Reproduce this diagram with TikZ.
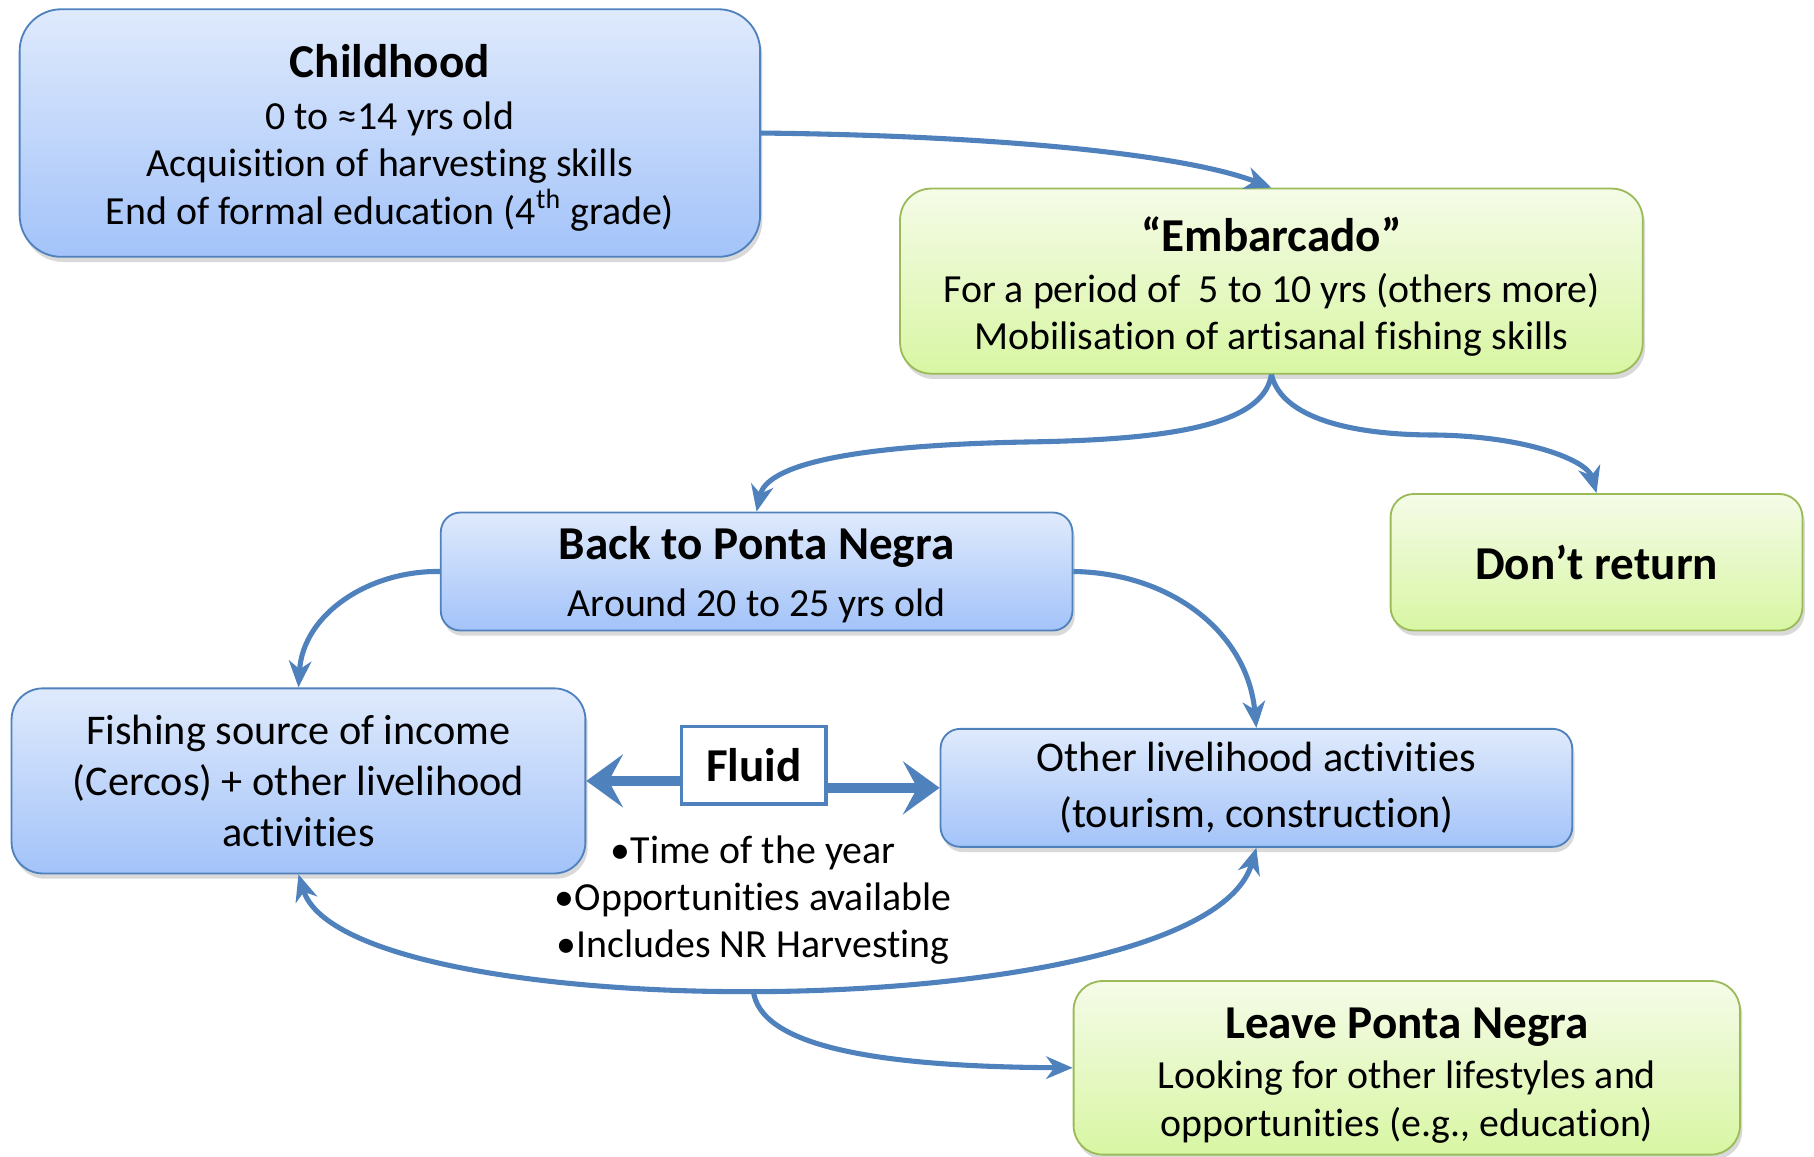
\documentclass[tikz,border=0pt]{standalone}
\usepackage{fontspec}
\setmainfont{Carlito}[Ligatures=NoCommon]
\usetikzlibrary{arrows.meta,shadows}

\definecolor{pptblue}{RGB}{79,129,189}
\definecolor{bluetop}{RGB}{223,234,252}
\definecolor{bluebot}{RGB}{163,195,249}
\definecolor{greentop}{RGB}{245,251,232}
\definecolor{greenbot}{RGB}{216,246,163}
\definecolor{greenline}{RGB}{155,187,89}

\newcommand{\headfont}{\fontsize{23.2}{28}\selectfont\bfseries}
\newcommand{\bodyfont}{\fontsize{19.6}{23.3}\selectfont}
\newcommand{\headstrut}[1][22.5pt]{\rule{0pt}{#1}}

\tikzset{
  box/.style={rectangle, align=center, inner sep=0pt, font=\bodyfont,
    drop shadow={shadow xshift=0.4mm, shadow yshift=-0.9mm, opacity=0.3}},
  bluebox/.style={box, draw=pptblue, line width=0.9pt, top color=bluetop, bottom color=bluebot},
  greenbox/.style={box, draw=greenline, line width=0.9pt, top color=greentop, bottom color=greenbot},
  fluidbox/.style={rectangle, draw=pptblue, line width=1.7pt, fill=white, font=\headfont,
    minimum width=25mm, minimum height=13.4mm},
  link/.style={draw=pptblue, line width=2.5pt, -{Stealth[length=13pt,width=11pt,inset=4pt]}},
  twoway/.style={link, {Stealth[length=13pt,width=11pt,inset=4pt]}-{Stealth[length=13pt,width=11pt,inset=4pt]}},
  fatlink/.style={draw=pptblue, line width=5.2pt, -{Stealth[length=18pt,width=26pt,inset=7pt]}}
}

\begin{document}
\begin{tikzpicture}[x=0.2mm,y=-0.2mm]
\useasboundingbox (0,0) rectangle (1568,1000);
%\draw[step=100,gray,very thin] (0,0) grid (1568,1000);
\node[bluebox, rounded corners=7.2mm, minimum width=128mm, minimum height=42.8mm] (child) at (337,115)
  {{\headfont\headstrut[21pt]Childhood}\\[2.2pt] 0 to ≈14 yrs old\\ Acquisition of harvesting skills\\ End of formal education (4\textsuperscript{th} grade)};
\node[greenbox, rounded corners=5.4mm, minimum width=128.4mm, minimum height=32mm] (emb) at (1099,243)
  {{\headfont\headstrut “Embarcado”}\\[1.5pt] For a period of\ \ 5 to 10 yrs (others more)\\ Mobilisation of artisanal fishing skills};
\node[greenbox, rounded corners=4mm, minimum width=71.2mm, minimum height=23.6mm, font=\headfont] (dont) at (1380,486) {Don’t return};
\node[bluebox, rounded corners=3.4mm, minimum width=109.2mm, minimum height=20.4mm] (back) at (654,494)
  {{\headfont\headstrut[19.5pt]Back to Ponta Negra}\\[5pt] Around 20 to 25 yrs old};
\node[bluebox, rounded corners=5.4mm, minimum width=99.2mm, minimum height=32mm, font=\fontsize{20.8}{25}\selectfont] (fish) at (258,675)
  {Fishing source of income\\ (Cercos) + other livelihood\\ activities};
\node[bluebox, rounded corners=3.4mm, minimum width=109.2mm, minimum height=20.4mm, font=\fontsize{20.8}{27.8}\selectfont] (other) at (1086,681)
  {Other livelihood activities\\ (tourism, construction)};
\node[fluidbox] (fluid) at (651.5,661.5) {Fluid};
\node[align=center, font=\bodyfont, inner sep=0pt] (factors) at (651,778)
  {•Time of the year\\ •Opportunities available\\ •Includes NR Harvesting};
\node[greenbox, rounded corners=5mm, minimum width=115.2mm, minimum height=30mm] (leave) at (1216,923)
  {{\headfont\headstrut Leave Ponta Negra}\\[1.5pt] Looking for other lifestyles and\\ opportunities (e.g., education)};

\draw[link] (child.east) .. controls (850,117) and (1020,132) .. (emb.north);
\draw[link] (emb.south) .. controls (1092,368) and (1010,380) .. (890,382) .. controls (720,385) and (662,405) .. (back.north);
\draw[link] (emb.south) .. controls (1108,362) and (1170,376) .. (1240,376) .. controls (1320,377) and (1372,398) .. (dont.north);
\draw[link] (back.west) .. controls (320,493) and (262,530) .. (fish.north);
\draw[link] (back.east) .. controls (1010,495) and (1078,545) .. (other.north);
\draw[twoway] (fish.south) .. controls (300,890) and (1040,890) .. (other.south);
\coordinate (split) at (651,855);
\draw[link] (split) .. controls (655,905) and (760,922) .. (leave.west);
\draw[fatlink] (fluid.west |- fish.east) -- (fish.east);
\draw[fatlink] (fluid.east |- other.west) -- (other.west);
\end{tikzpicture}
\end{document}
